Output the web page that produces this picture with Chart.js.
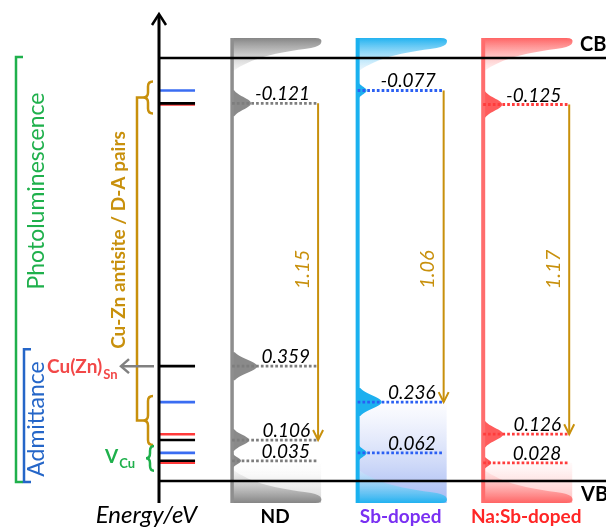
<!DOCTYPE html>
<html>
<head>
<meta charset="utf-8">
<style>
  html, body { margin: 0; padding: 0; background: #ffffff; }
  #wrap { width: 606px; height: 527px; }
</style>
<script src="https://cdn.jsdelivr.net/npm/chart.js@4.4.1/dist/chart.umd.min.js"></script>
</head>
<body>
<div id="wrap"><canvas id="diagram" width="606" height="527"></canvas></div>
<script>
// ---- Data (energies in eV) ----
const samples = ['ND', 'Sb-doped', 'Na:Sb-doped'];
const bandGap = 1.38;                                   // drawn CB–VB separation
const donorDepth = [-0.121, -0.077, -0.125];            // measured from the CB edge
const acceptorLevels = [[0.359, 0.106, 0.035], [0.236, 0.062], [0.126, 0.028]]; // above the VB edge
const plTransition = [1.15, 1.06, 1.17];                // PL donor–acceptor transition energies
const plAcceptor = [0.106, 0.236, 0.126];               // acceptor level reached by each transition
const shadeFrom = [0.035, 0.236, 0.028];                // top of the shaded acceptor tail
const cuZnAcceptors = [0.236, 0.126, 0.106];            // Cu-Zn antisite acceptors
const vCuLevels = [0.062, 0.035, 0.028];                // V_Cu acceptors
const cuZnSnLevel = 0.359;                              // Cu(Zn)Sn cluster

// ---- Band diagram scale: linear in energy, with a small pixel inset at both band edges ----
class BandGapScale extends Chart.LinearScale {
  getPixelForValue(value) {
    const lo = this.min, hi = this.max, top = this.top, bottom = this.bottom;
    const gap = this.options.edgeGap || 0;
    const k = (bottom - top) / (hi - lo);
    if (value <= lo) return bottom - (value - lo) * k;
    if (value >= hi) return top - (value - hi) * k;
    return bottom - gap - (value - lo) / (hi - lo) * (bottom - top - 2 * gap);
  }
  getValueForPixel(pixel) {
    const lo = this.min, hi = this.max, gap = this.options.edgeGap || 0;
    return lo + (this.bottom - gap - pixel) / (this.bottom - this.top - 2 * gap) * (hi - lo);
  }
}
BandGapScale.id = 'bandgap';
BandGapScale.defaults = Chart.LinearScale.defaults;
Chart.register(BandGapScale);

// ---- Layout (x in column pitches from the energy axis) ----
const X_MAX = 3.56;
const barX = i => 0.582 + i;
const lineEnd = i => 1.267 + i;
const TICK_X = [0.008, 0.287];
const GOLD = '#c8900c';
const FONT = 'Lato, "Open Sans", "DejaVu Sans", sans-serif';

const styles = [
  { bar: '#8e8e8e', barW: 3.5, peak: '#8a8a8a', dot: '#7d7d7d', tick: '#000000',
    band: ['#858585', 'rgba(240,240,240,0.5)'], shade: ['rgba(255,255,255,0.2)', '#d4d4d4'],
    label: '#000000', reach: [19, 25, 17, 9], half: [13, 14, 11, 7] },
  { bar: '#1ab1ef', barW: 4, peak: '#1db0ef', dot: '#2a5ff3', tick: '#3a6df2',
    band: ['#22b2f0', 'rgba(215,238,252,0.4)'], shade: ['rgba(252,252,255,0.6)', '#a3b8f2'],
    label: '#7a30f2', reach: [9, 24, 9], half: [8, 14, 8] },
  { bar: '#ff6d6d', barW: 4, peak: '#ff5b5b', dot: '#ff3c3c', tick: '#ff3a3a',
    band: ['#ff6464', 'rgba(255,225,225,0.4)'], shade: ['rgba(255,246,246,0.6)', '#ffc0c0'],
    label: '#ff2626', reach: [19, 20, 8], half: [13, 13, 7] }
];

// ---- Datasets: band edges, level lines, level markers on the axis, PL arrows ----
const seg = (x0, y0, x1, y1, extra) => Object.assign({
  data: [{ x: x0, y: y0 }, { x: x1, y: y1 }],
  showLine: true, pointRadius: 0, fill: false, clip: false, tension: 0,
  borderCapStyle: 'butt'
}, extra);

const datasets = [];
datasets.push(seg(0, bandGap, X_MAX, bandGap, { borderColor: '#000', borderWidth: 2.5 }));
datasets.push(seg(0, 0, X_MAX, 0, { borderColor: '#000', borderWidth: 2.5 }));
samples.forEach((name, i) => {
  const st = styles[i];
  const levels = [bandGap + donorDepth[i], ...acceptorLevels[i]];
  datasets.push(seg(lineEnd(i), bandGap + donorDepth[i], lineEnd(i), plAcceptor[i],
    { borderColor: GOLD, borderWidth: 2 }));
  levels.forEach(v => {
    datasets.push(seg(barX(i), v, lineEnd(i), v,
      { borderColor: st.dot, borderWidth: 2.8, borderDash: [2.7, 2.1] }));
  });
});
// axis markers: Na:Sb first, then Sb, ND on top
[2, 1, 0].forEach(i => {
  [bandGap + donorDepth[i], ...acceptorLevels[i]].forEach(v => {
    datasets.unshift(seg(TICK_X[0], v, TICK_X[1], v, { borderColor: styles[i].tick, borderWidth: 2.6 }));
  });
});

// ---- Drawing helpers ----
// gaussian-shaped PL peak pointing right from the sample bar
function peak(ctx, x, y, reach, half) {
  const sigma = half / 2.1, n = 28;
  ctx.beginPath();
  ctx.moveTo(x, y - half);
  for (let k = 0; k <= n; k++) {
    const t = -half + (2 * half * k) / n;
    ctx.lineTo(x + reach * Math.exp(-(t * t) / (2 * sigma * sigma)), y + t);
  }
  ctx.lineTo(x, y + half);
  ctx.closePath();
  ctx.fill();
}
function brace(ctx, x, y1, y2, w) {
  const xm = x + w * 0.5, xr = x + w, mid = (y1 + y2) / 2, r = Math.min(5, (y2 - y1) / 4);
  ctx.beginPath();
  ctx.moveTo(xr, y1);
  ctx.quadraticCurveTo(xm, y1, xm, y1 + r);
  ctx.lineTo(xm, mid - r);
  ctx.quadraticCurveTo(xm, mid, x, mid);
  ctx.quadraticCurveTo(xm, mid, xm, mid + r);
  ctx.lineTo(xm, y2 - r);
  ctx.quadraticCurveTo(xm, y2, xr, y2);
  ctx.stroke();
}
function label(ctx, str, x, y, font, color, align, rot) {
  ctx.save();
  ctx.translate(x, y);
  if (rot) ctx.rotate(rot);
  ctx.font = font;
  ctx.fillStyle = color;
  ctx.textAlign = align || 'left';
  ctx.textBaseline = rot ? 'middle' : 'alphabetic';
  ctx.fillText(str, 0, 0);
  ctx.restore();
}

// ---- Columns (band tails, shaded acceptor tails, PL peaks) and annotations ----
const columnsPlugin = {
  id: 'columns',
  beforeDatasetsDraw(chart) {
    const ctx = chart.ctx, xs = chart.scales.x, ys = chart.scales.y;
    const T = ys.getPixelForValue(bandGap) - 20, B = ys.getPixelForValue(0) + 22;
    samples.forEach((name, i) => {
      const st = styles[i];
      const L = xs.getPixelForValue(barX(i)), R = xs.getPixelForValue(lineEnd(i)) + 3;
      ctx.save();
      // shaded acceptor tail down to the VB
      const sTop = ys.getPixelForValue(shadeFrom[i]);
      let g = ctx.createLinearGradient(0, sTop, 0, B);
      g.addColorStop(0, st.shade[0]); g.addColorStop(1, st.shade[1]);
      ctx.fillStyle = g;
      ctx.fillRect(L, sTop, R - L, B - sTop);
      // conduction band tail
      g = ctx.createLinearGradient(0, T, 0, T + 34);
      g.addColorStop(0, st.band[0]); g.addColorStop(1, st.band[1]);
      ctx.fillStyle = g;
      ctx.beginPath();
      ctx.moveTo(L, T); ctx.lineTo(R - 6, T);
      ctx.quadraticCurveTo(R + 2, T, R, T + 5);
      ctx.quadraticCurveTo(R - 1, T + 8, R - 10, T + 10);
      ctx.bezierCurveTo(R - 45, T + 15, L + 20, T + 19, L, T + 34);
      ctx.closePath(); ctx.fill();
      // valence band tail
      g = ctx.createLinearGradient(0, B, 0, B - 34);
      g.addColorStop(0, st.band[0]); g.addColorStop(1, st.band[1]);
      ctx.fillStyle = g;
      ctx.beginPath();
      ctx.moveTo(L, B); ctx.lineTo(R - 6, B);
      ctx.quadraticCurveTo(R + 2, B, R, B - 5);
      ctx.quadraticCurveTo(R - 1, B - 8, R - 10, B - 10);
      ctx.bezierCurveTo(R - 45, B - 15, L + 20, B - 19, L, B - 34);
      ctx.closePath(); ctx.fill();
      // PL peaks at each level
      ctx.fillStyle = st.peak;
      const levels = [bandGap + donorDepth[i], ...acceptorLevels[i]];
      levels.forEach((v, k) => {
        peak(ctx, L, ys.getPixelForValue(v), st.reach[k], st.half[k]);
      });
      // sample bar
      ctx.fillStyle = st.bar;
      ctx.fillRect(L - st.barW / 2, T, st.barW, B - T);
      ctx.restore();
    });
  },
  afterDatasetsDraw(chart) {
    const ctx = chart.ctx, xs = chart.scales.x, ys = chart.scales.y;
    const Y = v => ys.getPixelForValue(v);
    const axisX = xs.getPixelForValue(0);
    ctx.save();
    // energy axis with arrow
    ctx.strokeStyle = '#000'; ctx.lineWidth = 3;
    ctx.beginPath(); ctx.moveTo(axisX, Y(0) + 22); ctx.lineTo(axisX, 15); ctx.stroke();
    ctx.lineWidth = 2.5;
    ctx.beginPath(); ctx.moveTo(axisX - 7, 25); ctx.lineTo(axisX, 14); ctx.lineTo(axisX + 7, 25); ctx.stroke();

    // level values and transition arrows
    samples.forEach((name, i) => {
      const R = xs.getPixelForValue(lineEnd(i));
      const levels = [bandGap + donorDepth[i], ...acceptorLevels[i]];
      const texts = [donorDepth[i].toFixed(3), ...acceptorLevels[i].map(v => v.toFixed(3))];
      levels.forEach((v, k) => {
        label(ctx, texts[k], R - 8, Y(v) - 3, 'italic 19px ' + FONT, '#000', 'right');
      });
      // arrow head at the acceptor end
      const yEnd = Y(plAcceptor[i]);
      ctx.strokeStyle = GOLD; ctx.lineWidth = 2;
      ctx.beginPath(); ctx.moveTo(R - 5, yEnd - 10); ctx.lineTo(R, yEnd); ctx.lineTo(R + 5, yEnd - 10); ctx.stroke();
      label(ctx, plTransition[i].toFixed(2), R - 16, Y(bandGap / 2), 'italic 20px ' + FONT, GOLD, 'center', -Math.PI / 2);
      // sample names
      const L = xs.getPixelForValue(barX(i));
      label(ctx, name, (L + R) / 2, 523, 'bold 19px ' + FONT, styles[i].label, 'center');
    });

    // band labels
    label(ctx, 'CB', 580, 51, 'bold 20px ' + FONT, '#000', 'left');
    label(ctx, 'VB', 581, 501, 'bold 20px ' + FONT, '#000', 'left');
    label(ctx, 'Energy/eV', 197, 523, 'italic 24px ' + FONT, '#000', 'right');

    // Photoluminescence / Admittance brackets
    ctx.lineWidth = 2.5; ctx.lineJoin = 'miter';
    ctx.strokeStyle = '#1fb04c';
    ctx.beginPath(); ctx.moveTo(23, Y(bandGap) - 1); ctx.lineTo(16, Y(bandGap) - 1); ctx.lineTo(16, Y(0) + 1); ctx.lineTo(23, Y(0) + 1); ctx.stroke();
    label(ctx, 'Photoluminescence', 37, 191, '23px ' + FONT, '#1fb04c', 'center', -Math.PI / 2);
    ctx.strokeStyle = '#2566c8';
    const admTop = Y(cuZnSnLevel) - 17;
    ctx.beginPath(); ctx.moveTo(31, admTop); ctx.lineTo(24, admTop); ctx.lineTo(24, Y(0) + 1); ctx.lineTo(31, Y(0) + 1); ctx.stroke();
    label(ctx, 'Admittance', 37, 419, '23px ' + FONT, '#2566c8', 'center', -Math.PI / 2);

    // Cu-Zn antisite / D-A pair braces
    const donors = donorDepth.map(d => Y(bandGap + d));
    const up = [Math.min(...donors) - 9, Math.max(...donors) + 9];
    const acc = cuZnAcceptors.map(Y);
    const lo = [Math.min(...acc) - 6, Math.max(...acc) + 5];
    ctx.strokeStyle = GOLD; ctx.lineWidth = 2.5;
    brace(ctx, 143, up[0], up[1], 10);
    brace(ctx, 143, lo[0], lo[1], 10);
    const upMid = (up[0] + up[1]) / 2, loMid = (lo[0] + lo[1]) / 2;
    ctx.beginPath(); ctx.moveTo(143, upMid); ctx.lineTo(137, upMid); ctx.lineTo(137, loMid); ctx.lineTo(143, loMid); ctx.stroke();
    label(ctx, 'Cu-Zn antisite / D-A pairs', 119, 240, 'bold 19px ' + FONT, GOLD, 'center', -Math.PI / 2);

    // V_Cu brace
    const vc = vCuLevels.map(Y);
    const vb = [Math.min(...vc) - 7, Math.max(...vc) + 8];
    ctx.strokeStyle = '#1fb04c';
    brace(ctx, 146, vb[0], vb[1], 8);
    const vMid = (vb[0] + vb[1]) / 2;
    ctx.font = 'bold 19px ' + FONT;
    label(ctx, 'V', 105, vMid + 5, 'bold 19px ' + FONT, '#1fb04c', 'left');
    const vW = ctx.measureText('V').width;
    label(ctx, 'Cu', 105 + vW + 1, vMid + 10, 'bold 13px ' + FONT, '#1fb04c', 'left');

    // Cu(Zn)Sn pointer
    const yc = Y(cuZnSnLevel);
    ctx.strokeStyle = '#808080'; ctx.lineWidth = 2.5;
    ctx.beginPath(); ctx.moveTo(154, yc); ctx.lineTo(121, yc); ctx.stroke();
    ctx.beginPath(); ctx.moveTo(129, yc - 7); ctx.lineTo(121, yc); ctx.lineTo(129, yc + 7); ctx.stroke();
    label(ctx, 'Cu(Zn)', 47, yc + 7, 'bold 19px ' + FONT, '#f24848', 'left');
    ctx.font = 'bold 19px ' + FONT;
    const cW = ctx.measureText('Cu(Zn)').width;
    label(ctx, 'Sn', 47 + cW + 1, yc + 13, 'bold 13px ' + FONT, '#f24848', 'left');
    ctx.restore();
  }
};

new Chart(document.getElementById('diagram'), {
  type: 'scatter',
  data: { datasets },
  options: {
    responsive: false,
    animation: false,
    events: [],
    layout: { padding: { left: 159, right: 0, top: 58, bottom: 46 } },
    plugins: { legend: { display: false }, tooltip: { enabled: false }, title: { display: false } },
    scales: {
      x: { type: 'linear', min: 0, max: X_MAX, display: false },
      y: { type: 'bandgap', min: 0, max: bandGap, edgeGap: 10, display: false }
    }
  },
  plugins: [columnsPlugin]
});
</script>
</body>
</html>
